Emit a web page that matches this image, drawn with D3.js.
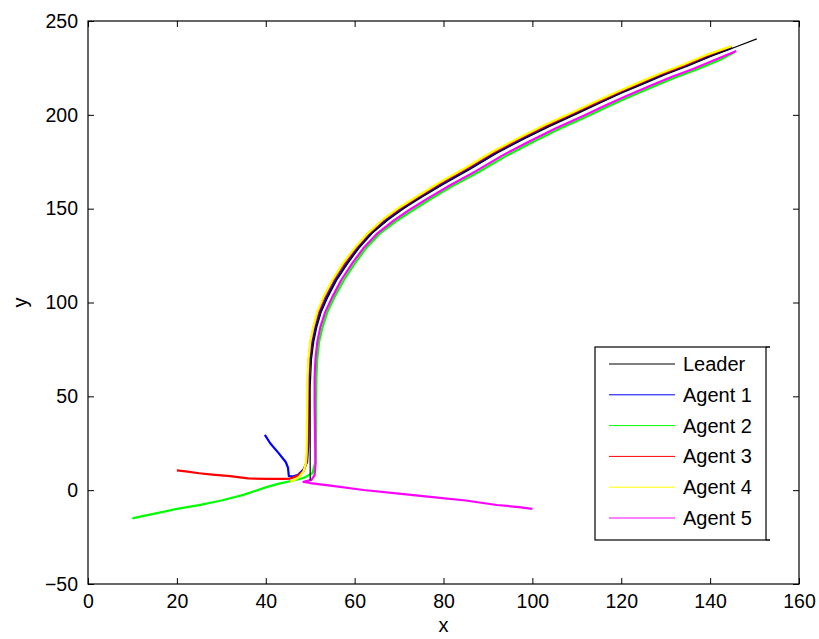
<!DOCTYPE html>
<html><head><meta charset="utf-8">
<script src="https://cdn.jsdelivr.net/npm/d3@7"></script>
<style>body{margin:0;background:#fff}svg{display:block}text{font-family:"Liberation Sans",Arial,Helvetica,sans-serif}</style>
</head><body><svg id="c" width="819" height="639"></svg>
<script>
const xTicks=[0,20,40,60,80,100,120,140,160];
const yTicks=[-50,0,50,100,150,200,250];
const seriesNames=["Leader","Agent 1","Agent 2","Agent 3","Agent 4","Agent 5"];
const seriesColors=["#000000","#0000ff","#00ff00","#ff0000","#ffff00","#ff00ff"];

const leader=[[50,5],[50,20],[50,40],[50,55],[50.3,70],[50.8,79],[51.5,87],[52.5,95],[54,103],[56,112],[58.5,121],[61,129],[64,137],[67.5,144],[71,150],[75,156],[80,163],[86,171],[92,179.5],[98,187],[104,194],[110,200.5],[115,206],[120,211.5],[125,216.5],[130,221.5],[135,226],[140,231],[145,235.5],[150.5,240.5]];
const agent1=[[39.8,29.5],[41,25],[42.8,20],[44.5,15],[45,12],[45.2,7.5],[46,7.3],[47.2,8],[48.5,11],[49.3,15],[49.6,25],[49.7,45],[49.7,60],[50,70],[50.5,79],[51.2,87],[52.2,95],[53.7,103],[55.7,112],[58.2,121],[60.7,129],[63.7,137],[67.2,144.2],[70.7,150.2],[74.7,156.2],[79.7,163.3],[85.7,171.2],[91.7,179.8],[97.7,187.3],[103.7,194.3],[109.7,200.8],[114.7,206.3],[119.7,211.8],[124.7,216.8],[129.7,221.8],[134.7,226.3],[139.7,231.2],[145,235.8]];
const agent2=[[10,-15],[12,-14],[15,-12.5],[20,-10],[25,-8],[30,-5.5],[35,-2.5],[40,1.5],[43,3.5],[46,5],[48.5,6.5],[50.5,9],[51.2,15],[51.3,30],[51.3,45],[51.4,60],[51.6,70],[52,79],[52.8,87],[53.9,95],[55.5,103],[57.6,112],[60.1,121],[62.6,129],[65.8,137],[69.3,143.2],[73,149],[77,155],[82,162],[88,169.7],[94,178],[100,185.4],[106,192.4],[112,198.9],[117,204.4],[122,209.8],[127,214.8],[132,219.8],[137,224.2],[142,229.1],[145.5,233.3]];
const agent3=[[20,10.5],[22,10],[25,9],[28,8.3],[32,7.5],[36,6.3],[40,6],[44,6],[45.5,6.2],[47,7.5],[48.5,10],[49.2,15],[49.4,25],[49.5,45],[49.5,60],[49.7,70],[50.1,79],[50.8,87],[51.8,95],[53.2,103],[55.2,112],[57.7,121],[60.2,129],[63.2,137],[66.7,144.4],[70.3,150.4],[74.3,156.4],[79.3,163.6],[85.3,171.6],[91.3,180.1],[97.3,187.6],[103.3,194.6],[109.3,201.1],[114.3,206.6],[119.3,212],[124.3,217.1],[129.3,222.1],[134.3,226.6],[139.3,231.6],[144.6,236.3]];
const agent4=[[45.5,4.5],[46.5,5.5],[47.5,7],[48.5,10],[49,14],[49.2,20],[49.3,40],[49.4,60],[49.6,70],[50,79],[50.7,87],[51.6,95],[53,103],[55,112],[57.4,121],[60,129],[63,137],[66.5,144.5],[70,150.5],[74,156.5],[79,163.8],[85,171.8],[91,180.3],[97,187.8],[103,194.8],[109,201.3],[114,206.8],[119,212.2],[124,217.3],[129,222.3],[134,226.8],[139,231.8],[144.8,236.6]];
const agent5=[[100,-10],[97,-9],[92,-7.9],[85,-5.5],[77,-3.6],[70,-1.8],[62,0.1],[55,2.3],[50,3.8],[48.5,4.4],[50.3,5.5],[51,8],[51.2,14],[51.1,30],[51,45],[51,60],[51.2,70],[51.6,79],[52.3,87],[53.4,95],[55,103],[57,112],[59.5,121],[62,129],[65.2,137],[68.7,143.5],[72.3,149.3],[76.3,155.2],[81.3,162.2],[87.3,170],[93.3,178.4],[99.3,185.8],[105.3,192.8],[111.3,199.3],[116.3,204.8],[121.3,210.2],[126.3,215.2],[131.3,220.2],[136.3,224.6],[141.3,229.5],[145.9,234]];

const series=[leader,agent1,agent2,agent3,agent4,agent5];
const L=88,R=799,T=21,B=584;
const svg=d3.select("#c");
const x=d3.scaleLinear().domain([0,160]).range([L,R]);
const y=d3.scaleLinear().domain([-50,250]).range([B,T]);

// data lines: agents first, then leader on top
const line=d3.line().x(d=>x(d[0])).y(d=>y(d[1]));
const g=svg.append("g");
const order=[1,2,3,4,5,0];
order.forEach(i=>{
  g.append("path").attr("d",line(series[i])).attr("fill","none")
   .attr("stroke",seriesColors[i]).attr("stroke-width",i===0?1.2:2.2)
   .attr("stroke-linejoin","round");
});

// box
svg.append("rect").attr("x",L).attr("y",T).attr("width",R-L).attr("height",B-T)
  .attr("fill","none").attr("stroke","#000").attr("stroke-width",1.2);

const fs="19.5px";
const axB=svg.append("g").attr("transform",`translate(0,${B})`)
  .call(d3.axisBottom(x).tickValues(xTicks).tickSize(-6).tickPadding(10));
const axT=svg.append("g").attr("transform",`translate(0,${T})`)
  .call(d3.axisTop(x).tickValues(xTicks).tickSize(-6).tickFormat(""));
const axL=svg.append("g").attr("transform",`translate(${L},0)`)
  .call(d3.axisLeft(y).tickValues(yTicks).tickSize(-6).tickPadding(10));
const axR=svg.append("g").attr("transform",`translate(${R},0)`)
  .call(d3.axisRight(y).tickValues(yTicks).tickSize(-6).tickFormat(""));
[axB,axT,axL,axR].forEach(a=>{
  a.select(".domain").remove();
  a.selectAll("line").attr("stroke","#000");
  a.selectAll("text").attr("fill","#000").style("font-size",fs).style("font-family",'"Liberation Sans",Arial,sans-serif');
});

svg.append("text").attr("x",(L+R)/2).attr("y",632).attr("text-anchor","middle")
  .style("font-size","20px").text("x");
svg.append("text").attr("transform",`translate(27,${(T+B)/2}) rotate(-90)`).attr("text-anchor","middle")
  .style("font-size","20px").text("y");

// legend
const lg=svg.append("g");
lg.append("rect").attr("x",595).attr("y",347).attr("width",171).attr("height",193)
  .attr("fill","#fff").attr("stroke","#000").attr("stroke-width",1.2);
lg.append("line").attr("x1",766).attr("x2",770).attr("y1",347).attr("y2",347).attr("stroke","#000").attr("stroke-width",1.5);
lg.append("line").attr("x1",766).attr("x2",770).attr("y1",540).attr("y2",540).attr("stroke","#000").attr("stroke-width",1.5);
seriesNames.forEach((n,i)=>{
  const cy=364+i*30.8;
  lg.append("line").attr("x1",609).attr("x2",675).attr("y1",cy).attr("y2",cy)
    .attr("stroke",seriesColors[i]).attr("stroke-width",1);
  lg.append("text").attr("x",683).attr("y",cy).attr("dy","0.35em")
    .style("font-size","20px").text(n);
});
</script></body></html>
